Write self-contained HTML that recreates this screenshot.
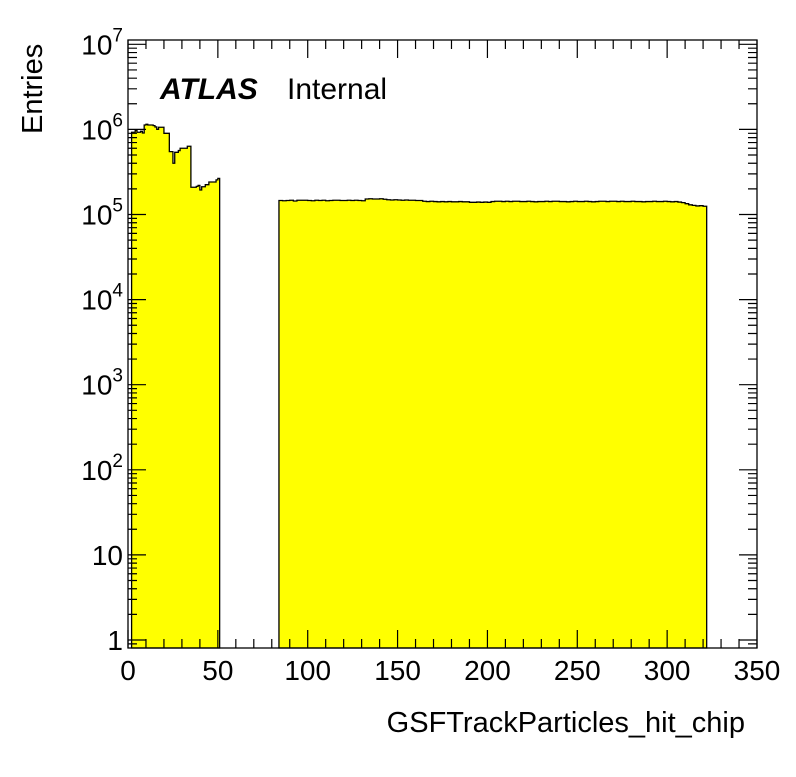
<!DOCTYPE html>
<html><head><meta charset="utf-8"><style>
body{margin:0;background:#fff}
text{font-family:"Liberation Sans",sans-serif}
</style></head><body>
<svg id="c" width="796" height="772" viewBox="0 0 796 772" xmlns="http://www.w3.org/2000/svg">
<rect width="796" height="772" fill="#fff"/>
<g id="bars"></g>
<g id="axes"></g>
<text x="160" y="99" font-size="30" font-weight="bold" font-style="italic">ATLAS</text>
<text x="287" y="99" font-size="30">Internal</text>
<text x="745" y="732" font-size="29" text-anchor="end">GSFTrackParticles_hit_chip</text>
<text transform="translate(42,134) rotate(-90)" font-size="29">Entries</text>
</svg>
<script>
const leftStart = 2;
const leftValues = [925000,925000,977000,925000,925000,950000,908000,1127000,1148000,1127000,1127000,1127000,1107000,1069000,1002000,1059000,1059000,1059000,900000,900000,900000,548000,548000,400000,538000,538000,564000,600000,600000,600000,600000,634000,634000,209000,209000,209000,214000,220000,194000,212000,212000,224000,224000,241000,241000,241000,241000,255000,266000];
const rightStart = 84;
const rightWidth = 2;
const rightValuesK = [146,145,146,147,144,147,
147,147,146,145,147,146,147,145,146,147,147,146,146,147,146,147,146,145,
152,153,152,152,153,151,
149,148,149,148,147,148,147,147,146,146,
143,142,143,142,141,142,141,142,141,141,142,141,141,
139,139,140,139,140,139,
142,143,143,142,143,142,143,143,142,142,143,142,141,142,142,143,142,143,143,142,142,141,142,143,142,142,143,142,141,142,
143,143,142,143,143,142,143,142,142,143,142,142,141,142,142,143,142,142,143,142,141,142,140,138,134,130,128,126,127,125];
const xTicks = [0,50,100,150,200,250,300,350];
const yDecades = [0,1,2,3,4,5,6,7];

const L=128,R=757,T=40,B=648;
const xs=u=>L+(u/350)*(R-L);
const ys=v=>640-85.1*Math.log10(v);
const NS="http://www.w3.org/2000/svg";
const bars=document.getElementById('bars'), axes=document.getElementById('axes');
function mk(tag,attrs,parent){const e=document.createElementNS(NS,tag);for(const k in attrs)e.setAttribute(k,attrs[k]);parent.appendChild(e);return e;}

function drawHist(start,width,vals,name){
  let d=`M${xs(start)},${B}`;
  vals.forEach((v,i)=>{const x0=xs(start+i*width),x1=xs(start+(i+1)*width),y=ys(v);d+=`L${x0},${y}L${x1},${y}`;});
  d+=`L${xs(start+vals.length*width)},${B}Z`;
  const p=mk('path',{d:d,fill:'#ffff00',stroke:'#000','stroke-width':1.3},bars);
  
  
}
drawHist(leftStart,1,leftValues,'left-histogram');
drawHist(rightStart,rightWidth,rightValuesK.map(k=>k*1000),'right-histogram');

const fr=mk('rect',{x:L,y:T,width:R-L,height:B-T,fill:'none',stroke:'#000','stroke-width':1.3},axes);


let td='';
for(let u=0;u<=350;u+=10){const len=(u%50===0)?18:9;const x=xs(u);td+=`M${x},${B}V${B-len}M${x},${T}V${T+len}`;}
for(let dcd=0;dcd<=7;dcd++){for(let m=1;m<=9;m++){const v=m*Math.pow(10,dcd);const y=ys(v);if(y<T||y>B)continue;const len=m===1?18:9;td+=`M${L},${y}H${L+len}M${R},${y}H${R-len}`;}}
{const y=ys(0.9);td+=`M${L},${y}H${L+9}M${R},${y}H${R-9}`;}
const tp=mk('path',{d:td,stroke:'#000','stroke-width':1.2,fill:'none'},axes);


xTicks.forEach(u=>{const t=mk('text',{x:xs(u),y:680,'font-size':28,'text-anchor':'middle'},axes);t.textContent=u;

});
yDecades.forEach(dcd=>{const y=ys(Math.pow(10,dcd));const t=mk('text',{x:123,y:y+10,'font-size':28,'text-anchor':'end'},axes);


if(dcd===0)t.textContent='1';else if(dcd===1)t.textContent='10';else{t.textContent='10';const s=mk('tspan',{dy:-13,'font-size':19},t);s.textContent=dcd;}});
</script>
</body></html>
